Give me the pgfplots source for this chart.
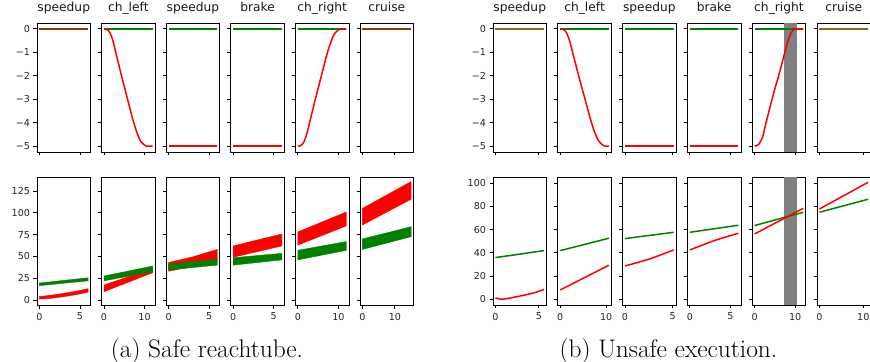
\documentclass[border=0pt]{standalone}
\usepackage{pgfplots}
\pgfplotsset{compat=1.18}
\usepackage{fontspec}
\newfontfamily\dv{DejaVu Sans}
\definecolor{grn}{RGB}{0,128,0}
\definecolor{rd}{RGB}{255,0,0}
\definecolor{olv}{RGB}{140,105,20}
\pgfplotsset{
  mybase/.style={scale only axis, width=53.5bp, anchor=south west,
    axis line style={black, line width=0.8bp},
    tick align=outside, tick pos=left, major tick length=3.5bp,
    every tick/.style={black, line width=0.8bp},
    tick label style={font=\dv\fontsize{9.6}{11}\selectfont, text=black!85},
    title style={font=\dv\fontsize{12.3}{14}\selectfont, text=black!90, at={(0.5,1)}, anchor=base, yshift=6bp},
    xticklabel style={yshift=-1bp}},
  mytop/.style={mybase, height=129bp, ymin=-5.25, ymax=0.25, ytick={-5,-4,-3,-2,-1,0}, yticklabels={}, xticklabels={}},
  mytopfirst/.style={mytop, yticklabels={−5,−4,−3,−2,−1,0}},
  mybota/.style={mybase, height=128bp, ymin=-5.7, ymax=141, ytick={0,25,50,75,100,125}, yticklabels={}},
  mybotafirst/.style={mybota, yticklabels={0,25,50,75,100,125}},
  mybotb/.style={mybase, height=128bp, ymin=-5, ymax=105.4, ytick={0,20,40,60,80,100}, yticklabels={}},
  mybotbfirst/.style={mybotb, yticklabels={0,20,40,60,80,100}},
  xrsix/.style={xmin=-0.3, xmax=6.3, xtick={0,5}},
  xrtwelve/.style={xmin=-0.6, xmax=12.6, xtick={0,10}},
  xrfifteen/.style={xmin=-0.75, xmax=15.75, xtick={0,10}},
  lblfive/.style={xticklabels={0,5}},
  lblten/.style={xticklabels={0,10}},
  gl/.style={grn, line width=1.5bp},
  rl/.style={rd, line width=1.5bp},
  gb/.style={fill=grn, draw=grn, line width=0.4bp},
  rb/.style={fill=rd, draw=rd, line width=0.4bp},
  shade/.style={fill=gray, draw=none}
}
\begin{document}
\begin{tikzpicture}
\path[use as bounding box] (0bp,0bp) rectangle (870bp,362bp);
% ================= (a) top row =================
\begin{axis}[mytopfirst, xrsix, at={(37bp,210bp)}, title={speedup}]
\addplot[gl] coordinates {(0,0)(6,0)};
\addplot[rd, opacity=0.55, line width=1.5bp] coordinates {(0,0)(6,0)};
\end{axis}
\begin{axis}[mytop, xrtwelve, at={(101.6bp,210bp)}, title={ch\_left}]
\addplot[gl] coordinates {(0,0)(12,0)};
\addplot[rl, smooth, tension=0.3] coordinates {(0,0)(0.5,-0.01)(1,-0.06)(1.5,-0.18)(2,-0.4)(2.5,-0.72)(3,-1.08)(3.5,-1.43)(4,-1.78)(5,-2.46)(6,-3.13)(7,-3.8)(7.5,-4.1)(8,-4.36)(8.5,-4.6)(9,-4.78)(9.5,-4.88)(10,-4.96)(10.5,-5)(12,-5)};
\end{axis}
\begin{axis}[mytop, xrsix, at={(166.2bp,210bp)}, title={speedup}]
\addplot[gl] coordinates {(0,0)(6,0)};
\addplot[rl] coordinates {(0,-5)(6,-5)};
\end{axis}
\begin{axis}[mytop, xrsix, at={(230.8bp,210bp)}, title={brake}]
\addplot[gl] coordinates {(0,0)(6,0)};
\addplot[rl] coordinates {(0,-5)(6,-5)};
\end{axis}
\begin{axis}[mytop, xrtwelve, at={(295.4bp,210bp)}, title={ch\_right}]
\addplot[gl] coordinates {(0,0)(12,0)};
\addplot[rl, smooth, tension=0.3] coordinates {(0,-5)(0.5,-4.99)(1,-4.94)(1.5,-4.82)(2,-4.6)(2.5,-4.28)(3,-3.92)(3.5,-3.57)(4,-3.22)(5,-2.54)(6,-1.87)(7,-1.2)(7.5,-0.9)(8,-0.64)(8.5,-0.4)(9,-0.22)(9.5,-0.12)(10,-0.04)(10.5,0)(12,0)};
\end{axis}
\begin{axis}[mytop, xrfifteen, at={(360bp,210bp)}, title={cruise}]
\addplot[gl] coordinates {(0,0)(15,0)};
\addplot[rd, opacity=0.55, line width=1.5bp] coordinates {(0,0)(15,0)};
\end{axis}
% ================= (a) bottom row =================
\begin{axis}[mybotafirst, xrsix, lblfive, at={(37bp,57bp)}]
\addplot[rb] coordinates {(0,1)(1.5,2)(3,3.8)(4.5,6.1)(6,9)(6,13)(4.5,10.1)(3,7.7)(1.5,5.6)(0,4)} --cycle;
\addplot[gb] coordinates {(0,16.5)(6,22)(6,25.5)(0,19.5)} --cycle;
\end{axis}
\begin{axis}[mybota, xrtwelve, lblten, at={(101.6bp,57bp)}]
\addplot[rb] coordinates {(0,9.6)(12,31.3)(12,36.3)(0,17.2)} --cycle;
\addplot[gb] coordinates {(0,22)(12,32.5)(12,39)(0,27.5)} --cycle;
\end{axis}
\begin{axis}[mybota, xrsix, lblfive, at={(166.2bp,57bp)}]
\addplot[rb] coordinates {(0,33)(3,38.5)(6,46)(6,58)(3,49.5)(0,43)} --cycle;
\addplot[gb] coordinates {(0,34.5)(6,40)(6,47)(0,41)} --cycle;
\end{axis}
\begin{axis}[mybota, xrsix, lblfive, at={(230.8bp,57bp)}]
\addplot[rb] coordinates {(0,49)(6,62)(6,75.7)(0,62)} --cycle;
\addplot[gb] coordinates {(0,40)(6,46)(6,53.5)(0,48.5)} --cycle;
\end{axis}
\begin{axis}[mybota, xrtwelve, lblten, at={(295.4bp,57bp)}]
\addplot[rb] coordinates {(0,63)(12,85)(12,101)(0,78)} --cycle;
\addplot[gb] coordinates {(0,46)(12,57)(12,67)(0,57)} --cycle;
\end{axis}
\begin{axis}[mybota, xrfifteen, lblten, at={(360bp,57bp)}]
\addplot[rb] coordinates {(0,86)(15,115.5)(15,135.7)(0,105)} --cycle;
\addplot[gb] coordinates {(0,58)(15,72.6)(15,84)(0,70)} --cycle;
\end{axis}
% ================= (b) top row =================
\begin{axis}[mytopfirst, xmin=-0.28, xmax=5.88, xtick={0,5}, at={(493bp,210bp)}, title={speedup}]
\addplot[olv, line width=2.2bp] coordinates {(0,0)(5.6,0)};
\end{axis}
\begin{axis}[mytop, xmin=-0.53, xmax=11.13, xtick={0,10}, at={(557.8bp,210bp)}, title={ch\_left}]
\addplot[gl] coordinates {(0,0)(10.6,0)};
\addplot[rl, smooth, tension=0.3] coordinates {(0,0)(0.47,-0.01)(0.93,-0.06)(1.4,-0.18)(1.86,-0.4)(2.33,-0.72)(2.79,-1.08)(3.26,-1.43)(3.72,-1.78)(4.65,-2.46)(5.58,-3.13)(6.51,-3.8)(6.98,-4.1)(7.44,-4.36)(7.91,-4.6)(8.37,-4.78)(8.84,-4.88)(9.3,-4.96)(9.77,-5)(10.6,-5)};
\end{axis}
\begin{axis}[mytop, xmin=-0.255, xmax=5.355, xtick={0,5}, at={(622.6bp,210bp)}, title={speedup}]
\addplot[gl] coordinates {(0,0)(5.1,0)};
\addplot[rl] coordinates {(0,-5)(5.1,-5)};
\end{axis}
\begin{axis}[mytop, xrsix, at={(687.4bp,210bp)}, title={brake}]
\addplot[gl] coordinates {(0,0)(6,0)};
\addplot[rl] coordinates {(0,-5)(6,-5)};
\end{axis}
\begin{axis}[mytop, xrtwelve, at={(752.2bp,210bp)}, title={ch\_right}]
\addplot[shade] coordinates {(7.2,-5.25)(10.5,-5.25)(10.5,0.25)(7.2,0.25)} --cycle;
\addplot[gl] coordinates {(0,0)(12,0)};
\addplot[rl, smooth, tension=0.3] coordinates {(0,-5)(1,-4.93)(2,-4.6)(2.6,-4.15)(3,-3.88)(4,-3.2)(5,-2.55)(6,-1.95)(7,-1.3)(7.5,-0.97)(8,-0.65)(8.5,-0.37)(9,-0.18)(9.5,-0.06)(10,0)(12,0)};
\end{axis}
\begin{axis}[mytop, xmin=-0.555, xmax=11.655, xtick={0,10}, at={(817bp,210bp)}, title={cruise}]
\addplot[olv, line width=2.2bp] coordinates {(0,0)(11.1,0)};
\end{axis}
% ================= (b) bottom row =================
\begin{axis}[mybotbfirst, xmin=-0.28, xmax=5.88, xtick={0,5}, lblfive, at={(493bp,57bp)}]
\addplot[gl] coordinates {(0,35.9)(5.6,41.9)};
\addplot[rl, smooth] coordinates {(0,1.2)(0.7,0)(1.5,0.8)(3,3)(4.5,5.6)(5.6,8.5)};
\end{axis}
\begin{axis}[mybotb, xmin=-0.53, xmax=11.13, xtick={0,10}, lblten, at={(557.8bp,57bp)}]
\addplot[gl] coordinates {(0,41.9)(10.6,52.6)};
\addplot[rl] coordinates {(0,8)(10.6,29.3)};
\end{axis}
\begin{axis}[mybotb, xmin=-0.255, xmax=5.355, xtick={0,5}, lblfive, at={(622.6bp,57bp)}]
\addplot[gl] coordinates {(0,52.3)(5.1,57.7)};
\addplot[rl, smooth] coordinates {(0,28.7)(2.5,34.5)(5.1,42.5)};
\end{axis}
\begin{axis}[mybotb, xrsix, lblfive, at={(687.4bp,57bp)}]
\addplot[gl] coordinates {(0,57.7)(6,63.8)};
\addplot[rl, smooth] coordinates {(0,42.5)(3,50.5)(6,56.9)};
\end{axis}
\begin{axis}[mybotb, xrtwelve, lblten, at={(752.2bp,57bp)}]
\addplot[shade] coordinates {(7.2,-5)(10.5,-5)(10.5,105.4)(7.2,105.4)} --cycle;
\addplot[gl] coordinates {(0,63.5)(12,75)};
\addplot[rl] coordinates {(0,56.3)(12,78.4)};
\end{axis}
\begin{axis}[mybotb, xmin=-0.555, xmax=11.655, xtick={0,10}, lblten, at={(817bp,57bp)}]
\addplot[gl] coordinates {(0,75)(11.1,86.2)};
\addplot[rl] coordinates {(0,77.8)(11.1,100.8)};
\end{axis}
% ================= captions =================
\node[anchor=base, font=\fontsize{25.5}{30}\selectfont, inner sep=0] at (207bp,5bp) {(a) Safe reachtube.};
\node[anchor=base, font=\fontsize{25.5}{30}\selectfont, inner sep=0] at (668.5bp,5bp) {(b) Unsafe execution.};
\end{tikzpicture}
\end{document}
